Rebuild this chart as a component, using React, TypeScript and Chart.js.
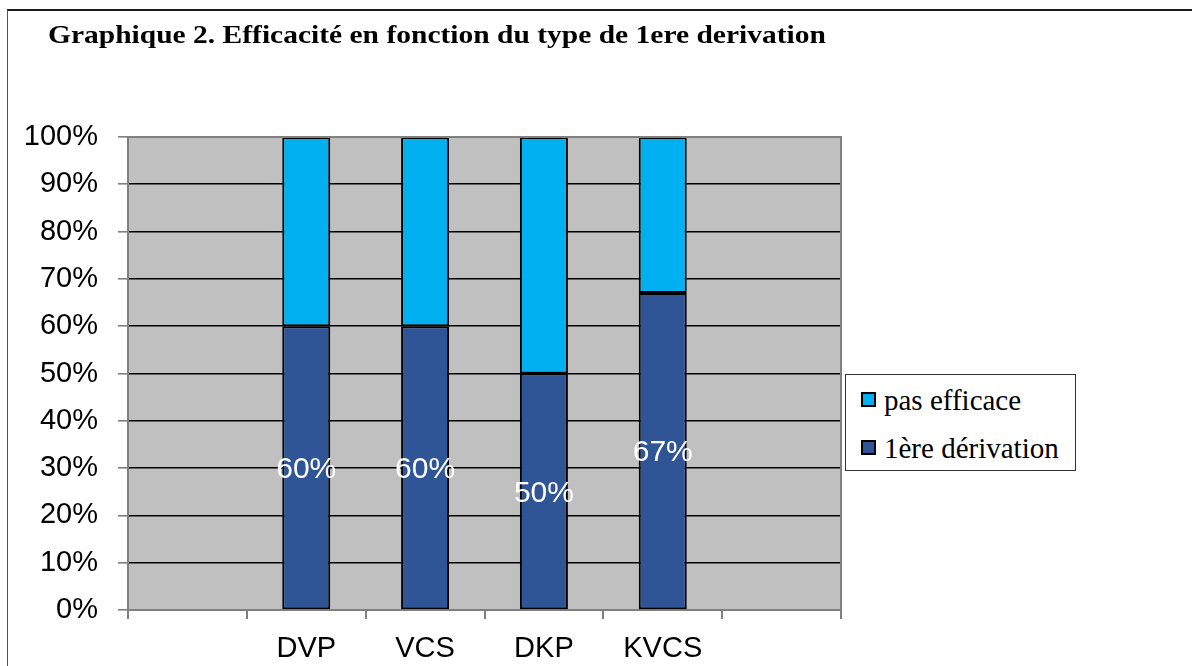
import React, { useEffect, useRef } from "react";
import { Chart, registerables } from "chart.js";

Chart.register(...registerables);

const TITLE = "Graphique 2. Efficacité en fonction du type de 1ere derivation";
const categories = ["", "DVP", "VCS", "DKP", "KVCS", ""];
const derivation = [null, 60, 60, 50, 67, null];
const pasEfficace = [null, 40, 40, 50, 33, null];
const seriesNames = ["1ère dérivation", "pas efficace"];
const seriesColors = ["#2F5597", "#00B0F0"];
const yTicks = [0, 10, 20, 30, 40, 50, 60, 70, 80, 90, 100];

const PLOT = { left: 128, top: 137, right: 841, bottom: 610 };
const W = 1192;
const H = 666;
const SANS = "'Liberation Sans', Arial, sans-serif";
const SERIF = "'Liberation Serif', 'Times New Roman', serif";

const bgPlugin = {
  id: "plotBg",
  beforeDraw(chart: any) {
    const { ctx, chartArea } = chart;
    ctx.save();
    ctx.fillStyle = "#C0C0C0";
    ctx.fillRect(chartArea.left, chartArea.top, chartArea.right - chartArea.left, chartArea.bottom - chartArea.top);
    ctx.restore();
  },
  afterDraw(chart: any) {
    const { ctx, chartArea } = chart;
    ctx.save();
    ctx.strokeStyle = "#808080";
    ctx.lineWidth = 2;
    ctx.beginPath();
    ctx.moveTo(chartArea.left, chartArea.top);
    ctx.lineTo(chartArea.right, chartArea.top);
    ctx.lineTo(chartArea.right, chartArea.bottom);
    ctx.stroke();
    const meta = chart.getDatasetMeta(0);
    ctx.fillStyle = "#FFFFFF";
    ctx.font = "30px " + SANS;
    ctx.textAlign = "center";
    ctx.textBaseline = "middle";
    meta.data.forEach((el: any, i: number) => {
      const v = derivation[i];
      if (v == null) return;
      const y = (el.y + el.base) / 2 + 2;
      ctx.fillText(v + "%", el.x, y);
    });
    ctx.restore();
  },
};

export default function App() {
  const ref = useRef<HTMLCanvasElement>(null);
  useEffect(() => {
    if (!ref.current) return;
    const chart = new Chart(ref.current, {
      type: "bar",
      data: {
        labels: categories,
        datasets: [
          {
            label: seriesNames[0],
            data: derivation as any,
            backgroundColor: seriesColors[0],
            borderColor: "#000000",
            borderWidth: 2,
            borderSkipped: false,
          },
          {
            label: seriesNames[1],
            data: pasEfficace as any,
            backgroundColor: seriesColors[1],
            borderColor: "#000000",
            borderWidth: 2,
            borderSkipped: false,
          },
        ],
      },
      options: {
        animation: false,
        responsive: false,
        maintainAspectRatio: false,
        datasets: { bar: { categoryPercentage: 1, barPercentage: 0.404 } },
        layout: { padding: { left: 0, top: PLOT.top, right: W - PLOT.right, bottom: 0 } },
        plugins: { legend: { display: false }, tooltip: { enabled: false }, title: { display: false } },
        scales: {
          x: {
            stacked: true,
            afterFit: (s: any) => { s.height = H - PLOT.bottom; },
            grid: { offset: true, drawOnChartArea: false, tickLength: 9, color: "#808080", lineWidth: 2 },
            border: { color: "#808080", width: 2 },
            ticks: { color: "#000", padding: 13, font: { size: 29, family: SANS } },
          },
          y: {
            stacked: true,
            min: 0,
            max: 100,
            afterFit: (s: any) => { s.width = PLOT.left; },
            afterBuildTicks: (s: any) => { s.ticks = yTicks.map((v) => ({ value: v })); },
            grid: {
              color: (c: any) => (c.tick && (c.tick.value === 100 || c.tick.value === 0) ? "#808080" : "#000000"),
              tickColor: "#808080",
              lineWidth: 1.6,
              tickLength: 10,
            },
            border: { color: "#808080", width: 2 },
            ticks: {
              color: "#000",
              padding: 20,
              font: { size: 29, family: SANS },
              callback: (v: any) => v + "%",
            },
          },
        },
      },
      plugins: [bgPlugin],
    });
    return () => chart.destroy();
  }, []);

  const legendItems = [
    { name: seriesNames[1], color: seriesColors[1] },
    { name: seriesNames[0], color: seriesColors[0] },
  ];

  return (
    <div style={{ position: "fixed", left: 0, top: 0, width: W, height: H, background: "#fff", overflow: "hidden" }}>
      <div style={{ position: "absolute", left: 7, top: 9, width: W, height: H, borderTop: "2px solid #1a1a1a", borderLeft: "1px solid #555", boxSizing: "border-box" }} />
      <canvas ref={ref} width={W} height={H} style={{ position: "absolute", left: 0, top: 0, width: W, height: H }} />
      <div
        style={{
          position: "absolute",
          left: 48,
          top: 23,
          fontFamily: SERIF,
          fontWeight: "bold",
          fontSize: 25,
          lineHeight: "24px",
          whiteSpace: "nowrap",
          color: "#000",
          transform: "scaleX(1.18)",
          transformOrigin: "left top",
        }}
      >
        {TITLE}
      </div>
      <div
        style={{
          position: "absolute",
          left: 845,
          top: 374,
          width: 231,
          height: 97,
          border: "1px solid #333",
          boxSizing: "border-box",
          background: "#fff",
        }}
      >
        {legendItems.map((it, i) => (
          <div key={i} style={{ position: "absolute", left: 15, top: 15 + i * 48, height: 20, display: "flex", alignItems: "flex-start" }}>
            <div style={{ width: 15, height: 15, background: it.color, border: "2px solid #000", boxSizing: "border-box", marginTop: 2 }} />
            <span
              style={{
                marginLeft: 8,
                fontFamily: SERIF,
                fontSize: 29,
                lineHeight: "20px",
                whiteSpace: "nowrap",
                color: "#000",
              }}
            >
              {it.name}
            </span>
          </div>
        ))}
      </div>
    </div>
  );
}
